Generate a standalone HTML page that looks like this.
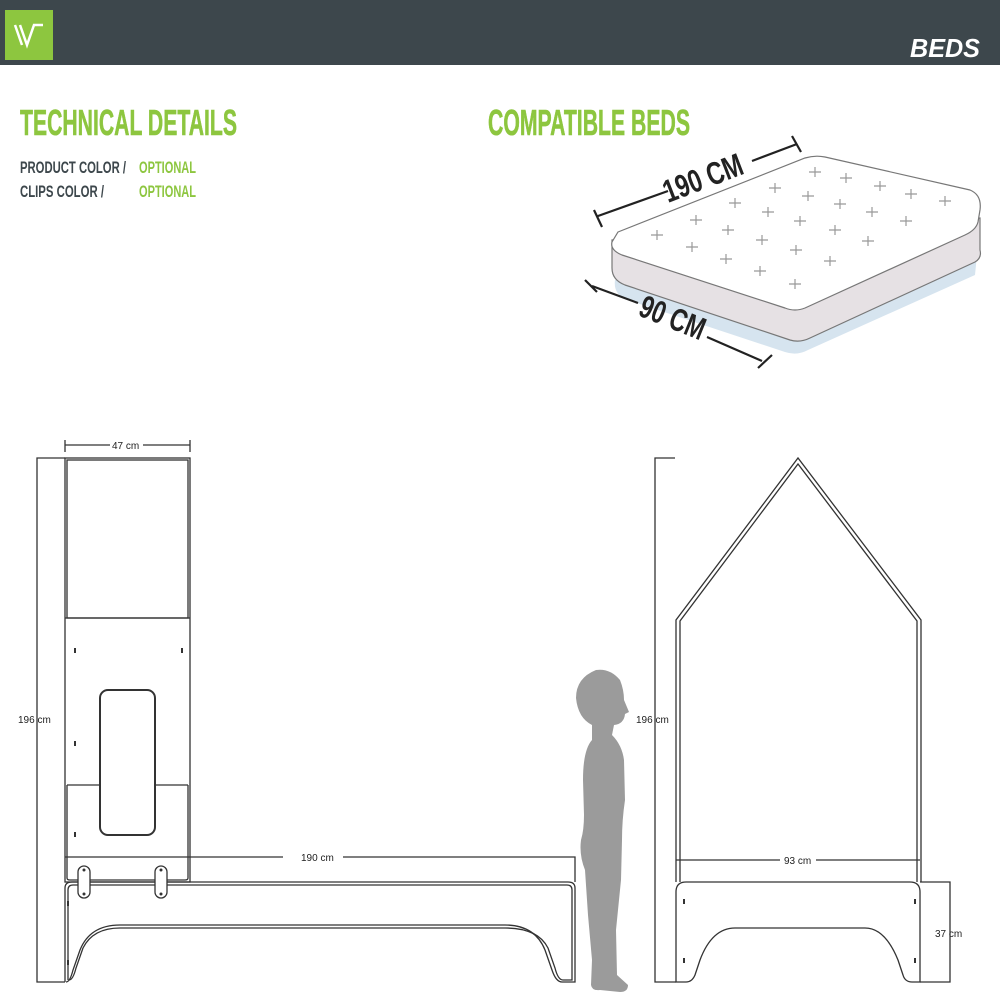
<!DOCTYPE html>
<html><head><meta charset="utf-8"><style>
html,body{margin:0;padding:0;background:#fff}
svg{display:block}
</style></head><body>
<svg width="1000" height="1000" viewBox="0 0 1000 1000" xmlns="http://www.w3.org/2000/svg">
<rect x="0" y="0" width="1000" height="65" fill="#3d474c"/>
<rect x="5" y="10" width="48" height="50" fill="#8dc63f"/>
<path d="M15 25 L22 45 M20 25 L27 45 L34 25 L43 25" stroke="#fff" stroke-width="2.5" fill="none"/>
<text x="910" y="57" font-family="Liberation Sans Narrow, Liberation Sans, sans-serif" font-weight="bold" font-style="italic" font-size="26" fill="#fff" textLength="70" lengthAdjust="spacingAndGlyphs">BEDS</text>

<g font-family="Liberation Sans Narrow, Liberation Sans, sans-serif" font-weight="bold">
<text x="20" y="135" font-size="36" fill="#8dc63f" stroke="#8dc63f" stroke-width="0.6" textLength="217" lengthAdjust="spacingAndGlyphs">TECHNICAL DETAILS</text>
<text x="488" y="135" font-size="36" fill="#8dc63f" stroke="#8dc63f" stroke-width="0.6" textLength="202" lengthAdjust="spacingAndGlyphs">COMPATIBLE BEDS</text>
<text x="20" y="173" font-size="17" fill="#3d474c" textLength="106" lengthAdjust="spacingAndGlyphs">PRODUCT COLOR /</text>
<text x="20" y="197" font-size="17" fill="#3d474c" textLength="84" lengthAdjust="spacingAndGlyphs">CLIPS COLOR /</text>
<text x="139" y="173" font-size="17" fill="#8dc63f" textLength="57" lengthAdjust="spacingAndGlyphs">OPTIONAL</text>
<text x="139" y="197" font-size="17" fill="#8dc63f" textLength="57" lengthAdjust="spacingAndGlyphs">OPTIONAL</text>
</g>

<!-- mattress -->
<path d="M615 280 Q613 295 628 300 L785 352 Q797 356 808 350 L975 275 L978 245 L800 215 Z" fill="#d6e4ef"/>
<path d="M612 240 L612 268 Q612 280 625 285 L790 340 Q800 343 810 338 L975 262 Q982 258 980 250 L980 218 Z" fill="#e6e1e4" stroke="#777" stroke-width="1.2"/>
<path d="M618 232 L805 158 Q815 155 825 157 L970 190 Q982 195 980 210 L978 222 Q976 230 965 235 L805 308 Q795 312 785 308 L622 255 Q610 250 612 242 Z" fill="#fff" stroke="#777" stroke-width="1.2"/>
<g stroke="#999" stroke-width="1.2">
<path d="M-6 0 H6 M0 -5 V5" transform="translate(815,172)"/>
<path d="M-6 0 H6 M0 -5 V5" transform="translate(846,178)"/><path d="M-6 0 H6 M0 -5 V5" transform="translate(880,186)"/><path d="M-6 0 H6 M0 -5 V5" transform="translate(911,194)"/><path d="M-6 0 H6 M0 -5 V5" transform="translate(945,201)"/>
<path d="M-6 0 H6 M0 -5 V5" transform="translate(775,188)"/><path d="M-6 0 H6 M0 -5 V5" transform="translate(808,196)"/><path d="M-6 0 H6 M0 -5 V5" transform="translate(840,204)"/><path d="M-6 0 H6 M0 -5 V5" transform="translate(872,212)"/><path d="M-6 0 H6 M0 -5 V5" transform="translate(906,221)"/>
<path d="M-6 0 H6 M0 -5 V5" transform="translate(735,203)"/><path d="M-6 0 H6 M0 -5 V5" transform="translate(768,212)"/><path d="M-6 0 H6 M0 -5 V5" transform="translate(800,221)"/><path d="M-6 0 H6 M0 -5 V5" transform="translate(835,230)"/><path d="M-6 0 H6 M0 -5 V5" transform="translate(868,241)"/>
<path d="M-6 0 H6 M0 -5 V5" transform="translate(696,220)"/><path d="M-6 0 H6 M0 -5 V5" transform="translate(728,230)"/><path d="M-6 0 H6 M0 -5 V5" transform="translate(762,240)"/><path d="M-6 0 H6 M0 -5 V5" transform="translate(796,250)"/><path d="M-6 0 H6 M0 -5 V5" transform="translate(830,261)"/>
<path d="M-6 0 H6 M0 -5 V5" transform="translate(657,235)"/><path d="M-6 0 H6 M0 -5 V5" transform="translate(692,247)"/><path d="M-6 0 H6 M0 -5 V5" transform="translate(726,259)"/><path d="M-6 0 H6 M0 -5 V5" transform="translate(760,271)"/><path d="M-6 0 H6 M0 -5 V5" transform="translate(795,284)"/>
</g>
<g stroke="#222" stroke-width="2.2" fill="none">
<path d="M598 216 L668 191 M752 161 L797 144 M594 210 L602 227 M792 136 L801 152"/>
<path d="M592 286 L638 303 M707 337 L762 361 M585 280 L597 292 M758 368 L772 355"/>
</g>
<text x="0" y="0" font-family="Liberation Sans Narrow, Liberation Sans, sans-serif" font-weight="bold" font-size="32" fill="#222" transform="translate(668,203) rotate(-21)" textLength="83" lengthAdjust="spacingAndGlyphs">190 CM</text>
<text x="0" y="0" font-family="Liberation Sans Narrow, Liberation Sans, sans-serif" font-weight="bold" font-size="32" fill="#222" transform="translate(637,315) rotate(22)" textLength="68" lengthAdjust="spacingAndGlyphs">90 CM</text>

<!-- left drawing -->
<g stroke="#333" stroke-width="1.3" fill="none">
<path d="M65 458 H37 V982 H65"/>
<path d="M65 440 V452 M190 440 V452 M65 445 H110 M143 445 H190"/>
<rect x="65" y="458" width="125" height="424"/>
<rect x="67" y="460" width="121" height="158"/>
<path d="M65 618 H190"/>
<path d="M67 785 H100 M155 785 H188 M67 785 V878 Q67 880 70 880 H185 Q188 880 188 878 V785"/>
<rect x="100" y="690" width="55" height="145" rx="8" stroke-width="2" fill="#fff"/>
<path d="M65 857 H283 M343 857 H575 V882"/>
<path d="M65 982 V888 Q65 882 72 882 H568 Q575 882 575 888 V982 H562 Q556 982 552 970 L545 950 Q535 925 505 925 H120 Q90 925 80 950 L73 970 Q70 982 66 982"/>
<path d="M68 980 V890 Q68 885 73 885 H567 Q572 885 572 890 V980 H563 Q558 980 555 968 L548 948 Q538 928 505 928 H120 Q93 928 83 948 L76 968 Q73 980 69 980"/>
<rect x="78" y="866" width="12" height="32" rx="6" fill="#fff"/>
<rect x="155" y="866" width="12" height="32" rx="6" fill="#fff"/>
</g>
<g fill="#333">
<circle cx="84" cy="870" r="1.5"/><circle cx="84" cy="894" r="1.5"/><circle cx="161" cy="870" r="1.5"/><circle cx="161" cy="894" r="1.5"/>
<rect x="74" y="648" width="2" height="5"/><rect x="181" y="648" width="2" height="5"/><rect x="74" y="741" width="2" height="5"/><rect x="74" y="832" width="2" height="5"/><rect x="67" y="901" width="2" height="5"/><rect x="67" y="960" width="2" height="5"/>
</g>
<g font-family="Liberation Sans, sans-serif" font-size="10" fill="#222">
<text x="112" y="449">47 cm</text>
<text x="18" y="723">196 cm</text>
<text x="301" y="861">190 cm</text>
<text x="636" y="723">196 cm</text>
<text x="784" y="864">93 cm</text>
<text x="935" y="937">37 cm</text>
</g>

<!-- person -->
<path d="M596 670 Q610 668 620 680 Q624 690 624 700 L629 712 L625 714 Q624 724 614 725 L612 735 Q622 745 624 760 L625 800 Q622 820 622 840 L621 880 L616 930 L617 975 L628 985 Q628 992 620 992 L600 990 Q592 991 591 985 L592 960 L588 915 L585 870 Q579 855 581 840 Q584 830 584 815 L583 780 Q583 750 592 740 L592 725 Q578 718 576 698 Q576 678 596 670 Z" fill="#9b9b9b"/>

<!-- right drawing -->
<g stroke="#333" stroke-width="1.3" fill="none">
<path d="M675 458 H655 V982 H676"/>
<path d="M676 882 V620 L798 458 L921 620 V882"/>
<path d="M680 882 V621 L798 464 L917 621 V882"/>
<path d="M676 860 H780 M816 860 H920"/>
<path d="M676 982 V892 Q676 882 686 882 H910 Q920 882 920 892 V982 H912 Q905 982 903 975 L898 960 Q885 928 865 928 H735 Q712 928 700 960 L695 975 Q692 982 686 982 Z"/>
<path d="M920 882 H950 V982 H920"/>
</g>
<g fill="#333"><rect x="683" y="899" width="2" height="5"/><rect x="914" y="899" width="2" height="5"/><rect x="683" y="958" width="2" height="5"/><rect x="914" y="958" width="2" height="5"/></g>
</svg>
</body></html>
